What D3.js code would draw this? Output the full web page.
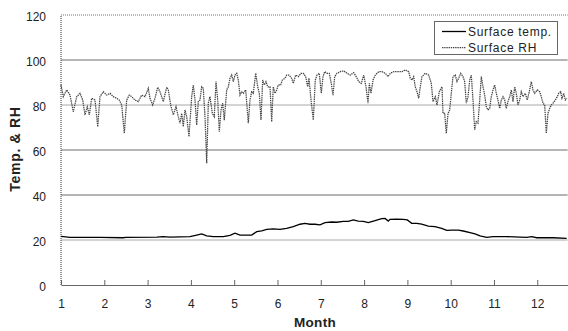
<html>
<head>
<script src="https://d3js.org/d3.v7.min.js"></script>
<style>
body { margin: 0; background: #fff; }
svg text { font-family: "Liberation Sans", Arial, sans-serif; fill: #222; }
.tick text { font-size: 12px; }
.title { font-weight: bold; }
.legend text { font-size: 12px; letter-spacing: 0.7px; }
</style>
</head>
<body>
<svg id="chart"></svg>
<script>
// months of the x axis and y ticks
var monthTicks = [1,2,3,4,5,6,7,8,9,10,11,12];
var yTicks = [0,20,40,60,80,100,120];
var gridValues = [20,40,60,80,100];

// Surface RH (%): month position / value
var rhMonth = [1.000,1.053,1.132,1.208,1.284,1.363,1.439,1.501,1.554,1.607,1.654,1.709,1.785,1.848,1.901,1.977,2.055,2.132,2.208,2.286,2.346,2.402,2.462,2.517,2.577,2.633,2.709,2.785,2.864,2.940,3.016,3.055,3.118,3.171,3.233,3.286,3.363,3.441,3.478,3.533,3.594,3.656,3.709,3.748,3.788,3.824,
  3.864,3.903,3.956,4.018,4.055,4.095,4.134,4.171,4.210,4.249,4.286,4.326,4.365,4.402,4.441,4.494,4.540,4.580,4.619,4.656,4.695,4.734,4.771,4.827,4.864,4.903,4.942,4.979,5.018,5.058,5.095,5.134,5.173,5.210,5.266,5.326,5.365,5.404,5.441,5.497,5.543,5.580,5.619,5.658,5.695,5.734,5.774,5.827,5.866,5.903,5.942,5.982,6.018,6.074,6.111,6.173,6.212,6.266,6.328,6.365,6.420,6.480,6.543,6.596,6.651,6.697,6.727,6.774,6.827,
  6.873,6.912,6.965,7.012,7.051,7.090,7.143,7.196,7.242,7.282,7.321,7.374,7.450,7.529,7.605,7.681,7.760,7.820,7.875,7.935,7.991,8.044,8.090,8.120,8.159,8.206,8.259,8.337,8.413,8.490,8.552,8.605,8.684,8.783,8.875,8.952,9.030,9.067,9.106,9.145,9.182,9.222,9.261,9.298,9.337,9.413,9.492,9.552,9.591,9.644,9.684,9.737,9.799,
  9.822,9.861,9.898,9.938,9.977,10.014,10.053,10.106,10.145,10.185,10.231,10.284,10.323,10.360,10.400,10.439,10.476,10.515,10.554,10.591,10.630,10.670,10.707,10.746,10.785,10.822,10.861,10.901,10.938,10.977,11.016,11.053,11.092,11.132,11.169,11.208,11.247,11.284,11.323,11.363,11.400,11.439,11.478,11.515,11.554,11.593,11.630,11.670,11.723,11.769,11.824,11.861,11.901,11.940,12.000,12.055,12.092,12.132,12.171,12.208,12.247,12.286,12.323,12.363,12.416,12.462,12.494,12.540,12.570,12.610,12.647,12.686];
var rhValue = [88.9,83.7,86.7,84.4,77.0,83.7,85.2,82.2,75.6,79.2,75.6,83.0,82.2,70.4,83.7,85.9,84.4,85.2,83.7,83.0,82.2,80.0,67.4,82.2,84.4,83.7,82.2,81.5,84.4,83.7,87.4,83.0,80.0,83.0,87.9,85.9,81.5,87.9,86.7,80.0,75.6,79.2,74.8,71.9,76.3,70.4,
  77.8,74.8,65.9,83.7,88.9,82.2,71.1,81.5,82.2,88.1,87.4,74.8,54.1,80.8,83.7,76.3,74.8,90.4,82.2,68.1,77.8,80.8,73.3,86.7,88.1,91.9,93.3,90.4,93.3,94.1,91.1,84.4,85.9,85.2,86.7,71.9,82.2,85.9,85.2,94.1,88.1,85.2,73.3,91.1,88.9,90.4,88.1,88.1,72.6,88.1,85.2,86.7,88.9,88.9,91.1,91.9,93.3,93.3,91.9,89.6,93.3,92.6,94.1,94.1,92.6,88.1,91.9,82.2,73.3,
  91.1,93.3,94.1,85.2,92.6,94.8,94.1,94.1,89.6,84.4,92.6,94.1,94.8,95.2,94.1,93.3,94.4,92.6,90.4,89.6,93.3,88.1,80.8,89.6,85.2,91.1,93.3,94.8,94.8,94.1,92.6,94.1,94.8,94.8,94.8,95.6,94.8,91.9,91.1,92.6,88.1,85.9,83.0,88.1,92.6,94.1,93.3,89.6,81.5,83.7,80.0,85.9,88.1,
  76.3,76.3,67.4,76.3,77.8,85.2,92.6,93.3,90.4,91.9,94.1,92.6,90.4,80.8,83.7,91.1,93.3,82.2,68.9,72.6,71.9,82.2,92.6,88.1,84.4,79.2,77.8,78.5,83.7,86.7,88.9,85.2,82.2,78.5,82.2,83.7,82.2,78.5,81.5,83.7,86.7,81.5,88.1,85.2,80.0,82.2,85.9,83.7,85.2,82.2,86.7,90.4,86.7,85.2,86.7,85.9,83.7,80.8,80.0,67.4,76.3,78.5,80.0,80.8,82.2,83.7,85.2,85.9,83.0,85.2,82.2,83.0];

// Surface temperature (deg C)
var tempMonth = [1.000,1.208,1.901,2.432,2.501,3.217,3.356,3.517,3.748,3.979,4.134,4.249,4.365,4.517,4.748,4.903,5.018,5.134,5.404,5.520,5.635,5.751,5.903,6.058,6.212,6.365,6.520,6.635,6.751,6.866,6.982,7.097,7.252,7.367,7.520,7.635,7.751,7.866,7.982,8.097,8.252,8.406,8.483,8.559,8.598,8.753,8.905,8.998,9.099,9.215,9.330,9.483,9.637,9.792,9.908,10.023,10.176,10.291,10.446,10.561,10.677,10.831,10.984,11.293,11.600,11.755,11.871,11.986,12.370,12.679];
var tempValue = [21.6,21.2,21.2,21.0,21.2,21.3,21.5,21.3,21.4,21.5,22.2,22.7,21.8,21.5,21.5,22.1,23.0,22.2,22.2,23.7,24.1,24.7,24.9,24.7,25.2,25.9,27.0,27.4,27.0,27.0,26.7,27.7,28.0,27.9,28.3,28.3,28.9,28.4,28.3,27.7,28.6,29.5,29.6,28.4,29.2,29.3,29.2,28.9,27.4,27.4,27.1,26.2,25.9,25.2,24.3,24.4,24.4,24.0,23.3,22.7,21.8,21.2,21.5,21.5,21.3,21.2,21.5,21.0,21.0,20.7];

var seriesNames = ["Surface temp.", "Surface RH"];

var W = 568, H = 331;
var m = { left: 61, right: 0.4, top: 15, bottom: 46 };

var svg = d3.select("#chart").attr("width", W).attr("height", H);

var x = d3.scaleLinear().domain([1, 12.7]).range([m.left, W - m.right]);
var y = d3.scaleLinear().domain([0, 120]).range([H - m.bottom, m.top]);

// gridlines
svg.append("g").selectAll("line")
    .data(gridValues)
    .enter().append("line")
    .attr("x1", x(1)).attr("x2", x(12.7))
    .attr("y1", function(d) { return y(d); })
    .attr("y2", function(d) { return y(d); })
    .attr("stroke", function(d) { return (d == 80 || d == 20) ? "#a8a8a8" : "#6a6a6a"; })
    .attr("stroke-width", 1);

// dotted top border
svg.append("line")
    .attr("x1", x(1)).attr("x2", x(12.7))
    .attr("y1", y(120)).attr("y2", y(120))
    .attr("stroke", "#777").attr("stroke-dasharray", "1,1");

// y axis labels
var yAxis = svg.append("g")
    .attr("transform", "translate(" + x(1) + ",0)")
    .call(d3.axisLeft(y).tickValues(yTicks).tickSize(0).tickPadding(15));
yAxis.select(".domain").remove();
yAxis.selectAll("text").attr("dy", "0.48em");

// dotted left axis
svg.append("line")
    .attr("x1", x(1)).attr("x2", x(1))
    .attr("y1", y(0)).attr("y2", y(120))
    .attr("stroke", "#333").attr("stroke-dasharray", "1,1");

// x axis, ticks point up into the plot
var xAxis = svg.append("g")
    .attr("transform", "translate(0," + y(0) + ")")
    .call(d3.axisBottom(x).tickValues(monthTicks).tickSizeInner(-5).tickSizeOuter(0).tickPadding(14.5).tickFormat(d3.format("d")));
xAxis.select(".domain").attr("stroke", "#666");
xAxis.selectAll(".tick line").attr("stroke", "#666");

// lines
var rhData = rhMonth.map(function(d, i) { return [d, rhValue[i]]; });
var tempData = tempMonth.map(function(d, i) { return [d, tempValue[i]]; });
var line = d3.line()
    .x(function(d) { return x(d[0]); })
    .y(function(d) { return y(d[1]); });

svg.append("path")
    .datum(rhData)
    .attr("d", line)
    .attr("fill", "none")
    .attr("stroke", "#444")
    .attr("stroke-width", 1.25)
    .attr("stroke-dasharray", "1.4,0.8");

svg.append("path")
    .datum(tempData)
    .attr("d", line)
    .attr("fill", "none")
    .attr("stroke", "#000")
    .attr("stroke-width", 1.3);

// axis titles
svg.append("text")
    .attr("class", "title")
    .attr("x", 315).attr("y", 327)
    .attr("text-anchor", "middle")
    .style("font-size", "13.5px")
    .style("letter-spacing", "0.3px")
    .text("Month");

svg.append("text")
    .attr("class", "title")
    .attr("transform", "translate(20,149) rotate(-90)")
    .attr("text-anchor", "middle")
    .style("font-size", "14px")
    .style("letter-spacing", "0.7px")
    .text("Temp. & RH");

// legend
var lg = svg.append("g").attr("class", "legend");
lg.append("rect")
    .attr("x", 434.5).attr("y", 21.5)
    .attr("width", 123).attr("height", 33)
    .attr("fill", "#fff").attr("stroke", "#666");
var legendRows = [
    { name: seriesNames[0], color: "#000", width: 1.3, dash: null, y: 31.5 },
    { name: seriesNames[1], color: "#444", width: 1.25, dash: "1.4,0.8", y: 47.5 }
];
legendRows.forEach(function(r) {
    lg.append("line")
        .attr("x1", 442).attr("x2", 466)
        .attr("y1", r.y).attr("y2", r.y)
        .attr("stroke", r.color).attr("stroke-width", r.width)
        .attr("stroke-dasharray", r.dash);
    lg.append("text")
        .attr("x", 468).attr("y", r.y + 4.5)
        .text(r.name);
});
</script>
</body>
</html>
